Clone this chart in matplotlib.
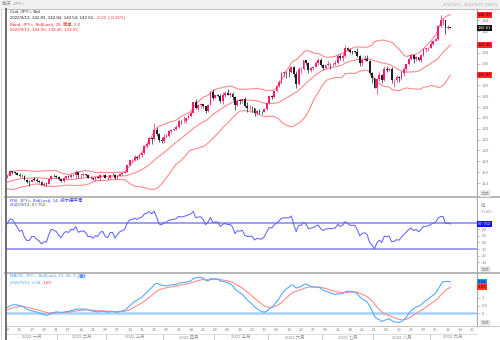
import numpy as np
import pandas as pd
import matplotlib
matplotlib.use("Agg")
import matplotlib.pyplot as plt
from matplotlib.lines import Line2D
from matplotlib.patches import Rectangle
from matplotlib.transforms import blended_transform_factory as blend

plt.rcParams["font.family"] = ["Liberation Sans", "Noto Sans CJK SC"]

# ---------------------------------------------------------------------------
# USD/JPY daily bid bars, 2022-01-03 .. 2022-09-13 (one row per week)
# ---------------------------------------------------------------------------
opens = [
    115.08, 115.30, 116.12, 116.10, 115.85,
    115.55, 115.20, 115.30, 114.60, 114.20,
    114.20, 114.60, 114.60, 114.30, 114.10,
    113.70, 113.90, 113.85, 114.65, 115.35,
    115.25, 115.10, 114.70, 114.40, 114.95,
    115.20, 115.10, 115.55, 115.50, 116.00,
    115.40, 115.55, 115.60, 115.45, 114.95,
    115.00, 114.75, 115.05, 114.95, 115.50,
    115.55, 115.00, 114.90, 115.50, 115.50,
    114.85, 115.30, 115.70, 115.85, 116.10,
    117.30, 118.20, 118.30, 118.75, 118.60,
    119.15, 119.45, 120.80, 121.20, 122.30,
    122.05, 123.85, 123.05, 121.85, 121.70,
    122.50, 122.75, 123.60, 123.80, 123.95,
    124.35, 125.40, 125.35, 125.45, 125.95,
    126.40, 126.95, 128.90, 127.90, 128.40,
    128.50, 128.10, 127.20, 128.40, 130.80,
    129.70, 130.15, 130.10, 129.10, 130.20,
    130.55, 130.30, 130.40, 129.90, 128.30,
    129.20, 129.15, 129.40, 128.20, 127.80,
    127.90, 127.85, 126.90, 127.30, 127.10,
    127.10, 127.60, 128.70, 130.00, 129.90,
    130.90, 131.90, 132.60, 134.20, 134.40,
    134.40, 134.40, 135.45, 134.00, 132.20,
    135.00, 135.05, 136.60, 136.20, 134.90,
    135.20, 135.45, 136.10, 136.60, 135.70,
    135.20, 135.70, 135.90, 135.90, 136.00,
    136.10, 137.40, 137.00, 137.40, 138.90,
    138.55, 138.20, 138.20, 138.20, 137.40,
    136.10, 136.70, 136.90, 136.50, 134.30,
    133.30, 131.60, 133.20, 133.90, 133.00,
    135.00, 134.90, 135.00, 132.90, 133.00,
    133.50, 133.30, 134.20, 135.00, 135.90,
    136.90, 137.50, 136.80, 137.20, 136.60,
    137.50, 138.70, 138.80, 138.95, 139.60,
    140.20, 140.50, 142.90, 144.00, 144.10,
    142.60, 142.83,
]
highs = [
    115.40, 116.35, 116.20, 116.10, 116.05,
    115.85, 115.60, 115.45, 114.70, 114.50,
    114.70, 115.05, 114.90, 114.60, 114.30,
    114.10, 114.05, 114.70, 115.50, 115.70,
    115.50, 115.20, 114.80, 115.10, 115.35,
    115.40, 115.70, 115.70, 116.35, 116.10,
    115.60, 115.80, 115.70, 115.50, 115.20,
    115.10, 115.10, 115.20, 115.70, 115.75,
    115.60, 115.10, 115.55, 115.80, 115.60,
    115.40, 115.85, 116.00, 116.20, 117.35,
    118.30, 118.45, 119.10, 119.00, 119.40,
    119.55, 120.95, 121.40, 122.40, 122.45,
    125.10, 124.25, 123.20, 122.40, 123.00,
    123.00, 123.70, 124.00, 124.10, 124.70,
    125.80, 125.60, 126.30, 126.00, 126.70,
    127.20, 129.00, 129.40, 128.60, 128.80,
    128.60, 128.20, 128.60, 130.90, 131.25,
    130.30, 130.40, 130.40, 130.80, 131.00,
    131.35, 130.70, 130.80, 130.00, 129.50,
    129.40, 129.50, 129.80, 128.90, 128.40,
    128.20, 127.90, 127.50, 127.60, 127.30,
    127.90, 128.80, 130.20, 130.20, 131.00,
    132.00, 133.00, 134.50, 134.60, 134.60,
    135.20, 135.60, 135.60, 134.70, 135.40,
    135.40, 136.70, 136.70, 136.30, 135.40,
    135.60, 136.40, 137.00, 137.00, 135.90,
    135.80, 136.40, 136.10, 136.20, 136.60,
    137.70, 137.80, 138.00, 139.40, 139.10,
    138.90, 138.40, 138.40, 138.90, 137.60,
    136.80, 137.50, 137.50, 136.60, 134.50,
    133.40, 133.30, 134.50, 134.00, 135.50,
    135.50, 135.20, 135.30, 133.20, 133.90,
    133.70, 134.60, 135.30, 136.00, 137.00,
    137.70, 137.70, 137.40, 137.30, 137.70,
    138.80, 138.90, 139.10, 140.20, 140.40,
    140.80, 143.10, 144.99, 144.40, 144.10,
    143.20, 142.84,
]
lows = [
    115.00, 115.20, 115.70, 115.60, 115.50,
    115.05, 115.00, 114.50, 114.00, 113.50,
    114.10, 114.40, 114.20, 114.00, 113.60,
    113.50, 113.50, 113.75, 114.60, 115.10,
    114.90, 114.60, 114.20, 114.20, 114.70,
    114.90, 115.00, 115.30, 115.00, 115.00,
    114.90, 115.30, 115.30, 114.85, 114.80,
    114.50, 114.40, 114.90, 114.40, 115.30,
    114.90, 114.70, 114.80, 115.40, 114.80,
    114.65, 115.20, 115.50, 115.80, 116.00,
    117.20, 117.80, 118.00, 118.25, 118.40,
    118.80, 119.40, 120.40, 121.00, 121.20,
    122.00, 122.60, 121.60, 121.30, 121.30,
    122.40, 122.50, 123.30, 123.60, 123.80,
    124.20, 124.80, 125.10, 125.10, 125.80,
    126.20, 126.90, 127.60, 127.30, 127.80,
    127.80, 126.95, 127.00, 128.30, 129.30,
    129.70, 129.90, 128.80, 128.60, 129.80,
    130.20, 129.80, 129.30, 127.50, 128.10,
    128.60, 128.80, 128.00, 127.00, 127.50,
    127.10, 126.35, 126.60, 126.80, 126.70,
    127.00, 127.50, 128.50, 129.50, 129.70,
    130.80, 131.70, 132.40, 133.60, 133.40,
    133.60, 134.20, 133.50, 131.50, 132.00,
    134.30, 134.80, 135.80, 134.30, 134.50,
    134.80, 135.40, 135.80, 135.60, 134.80,
    135.10, 135.50, 135.00, 135.60, 135.80,
    136.00, 136.60, 136.40, 137.30, 138.40,
    137.90, 137.70, 137.90, 137.30, 135.60,
    135.60, 136.40, 136.40, 133.90, 132.50,
    131.60, 130.40, 132.80, 132.50, 132.80,
    134.50, 134.60, 132.50, 131.70, 132.70,
    132.60, 132.90, 133.80, 134.60, 135.70,
    136.70, 136.20, 136.40, 136.40, 136.30,
    137.40, 138.20, 138.30, 138.90, 139.50,
    140.10, 140.40, 142.80, 143.20, 141.50,
    142.30, 142.53,
]
closes = [
    115.30, 116.12, 116.10, 115.85, 115.55,
    115.20, 115.30, 114.60, 114.20, 114.20,
    114.60, 114.60, 114.30, 114.10, 113.70,
    113.90, 113.85, 114.65, 115.35, 115.25,
    115.10, 114.70, 114.40, 114.95, 115.20,
    115.10, 115.55, 115.50, 116.00, 115.40,
    115.55, 115.60, 115.45, 114.95, 115.00,
    114.75, 115.05, 114.95, 115.50, 115.55,
    115.00, 114.90, 115.50, 115.50, 114.85,
    115.30, 115.70, 115.85, 116.10, 117.30,
    118.20, 118.30, 118.75, 118.60, 119.15,
    119.45, 120.80, 121.20, 122.30, 122.05,
    123.85, 123.05, 121.85, 121.70, 122.50,
    122.75, 123.60, 123.80, 123.95, 124.35,
    125.40, 125.35, 125.45, 125.95, 126.40,
    126.95, 128.90, 127.90, 128.40, 128.50,
    128.10, 127.20, 128.40, 130.80, 129.70,
    130.15, 130.10, 129.10, 130.20, 130.55,
    130.30, 130.40, 129.90, 128.30, 129.20,
    129.15, 129.40, 128.20, 127.80, 127.90,
    127.85, 126.90, 127.30, 127.10, 127.10,
    127.60, 128.70, 130.00, 129.90, 130.90,
    131.90, 132.60, 134.20, 134.40, 134.40,
    134.40, 135.45, 134.00, 132.20, 135.00,
    135.05, 136.60, 136.20, 134.90, 135.20,
    135.45, 136.10, 136.60, 135.70, 135.20,
    135.70, 135.90, 135.90, 136.00, 136.10,
    137.40, 137.00, 137.40, 138.90, 138.55,
    138.20, 138.20, 138.20, 137.40, 136.10,
    136.70, 136.90, 136.50, 134.30, 133.30,
    131.60, 133.20, 133.90, 133.00, 135.00,
    134.90, 135.00, 132.90, 133.00, 133.50,
    133.30, 134.20, 135.00, 135.90, 136.90,
    137.50, 136.80, 137.20, 136.60, 137.50,
    138.70, 138.80, 138.95, 139.60, 140.20,
    140.50, 142.90, 144.00, 144.10, 142.60,
    142.83, 142.61,
]
# Oct-Dec 2021 closes: history that seeds the moving averages / RSI
prior_close = [
    111.05, 110.95, 111.45, 111.40, 111.60, 112.20, 113.30, 113.60, 113.25,
    113.70, 114.20, 114.30, 114.35, 114.30, 114.00, 113.50, 113.70, 114.15,
    113.80, 113.60, 114.00,
    114.00, 113.95, 114.10, 113.75, 113.40, 112.90, 112.85, 113.90, 114.10,
    113.90, 114.10, 114.85, 114.10, 114.25, 114.00, 114.85, 115.10, 115.40,
    115.35, 113.35, 113.50, 113.20,
    113.00, 113.20, 112.80, 113.50, 113.55, 113.70, 113.40, 113.40, 113.55,
    113.75, 114.05, 113.70, 113.70, 113.60, 114.10, 114.15, 114.40, 114.40,
    114.80, 114.85, 114.95, 115.05, 115.10,
]

start_date = "2022-01-03"
axis_end_date = "2022-09-30"

price_ticks = list(range(114, 146, 2))
rsi_ticks = [10, 20, 30, 40, 50, 60]
macd_ticks = [0, 0.5, 1]
month_names = ["一月", "二月", "三月", "四月", "五月", "六月",
               "七月", "八月", "九月"]

# ---------------------------------------------------------------------------
# indicators
# ---------------------------------------------------------------------------
n = len(closes)
full = pd.Series(prior_close + closes, dtype=float)
mid = full.rolling(20).mean()
sd = full.rolling(20).std(ddof=0)
bb_up = (mid + 2 * sd).iloc[-n:].to_numpy()
bb_mid = mid.iloc[-n:].to_numpy()
bb_lo = (mid - 2 * sd).iloc[-n:].to_numpy()

delta = full.diff()
gain = delta.clip(lower=0).ewm(alpha=1 / 14, adjust=False).mean()
loss = (-delta.clip(upper=0)).ewm(alpha=1 / 14, adjust=False).mean()
rsi = (100 - 100 / (1 + gain / loss)).iloc[-n:].to_numpy()

ema12 = full.ewm(span=12, adjust=False).mean()
ema26 = full.ewm(span=26, adjust=False).mean()
macd_full = ema12 - ema26
signal_full = macd_full.ewm(span=9, adjust=False).mean()
macd = macd_full.iloc[-n:].to_numpy()
signal = signal_full.iloc[-n:].to_numpy()

o = np.array(opens); h = np.array(highs); l = np.array(lows); c = np.array(closes)
idx = np.arange(n)

# ---------------------------------------------------------------------------
# layout (pixel based, 500 x 340)
# ---------------------------------------------------------------------------
W, H = 500.0, 340.0
fig = plt.figure(figsize=(5, 3.4), dpi=100)
fig.patch.set_facecolor("white")


def rect(x0, y0, x1, y1):
    return [x0 / W, 1 - y1 / H, (x1 - x0) / W, (y1 - y0) / H]


def hline(y, x0=0, x1=W, color="#b4b4b4", lw=1.0):
    fig.add_artist(Line2D([x0 / W, x1 / W], [1 - y / H, 1 - y / H],
                          color=color, lw=lw, transform=fig.transFigure))


def vline(x, y0, y1, color="#b4b4b4", lw=1.0):
    fig.add_artist(Line2D([x / W, x / W], [1 - y0 / H, 1 - y1 / H],
                          color=color, lw=lw, transform=fig.transFigure))


X0, X1 = 6, 477
XLIM = (-0.53, 191.87)
FS = 3.2
GREY = "#8c8c8c"

ax_p = fig.add_axes(rect(X0, 9, X1, 197))
ax_r = fig.add_axes(rect(X0, 197, X1, 273))
ax_m = fig.add_axes(rect(X0, 273, X1, 326))
ax_d = fig.add_axes(rect(X0, 326, X1, 340))

for ax in (ax_p, ax_r, ax_m, ax_d):
    ax.set_xlim(*XLIM)
    ax.set_facecolor("none")
    for s in ("top", "left", "bottom"):
        ax.spines[s].set_visible(False)
    ax.spines["right"].set_color("#a8a8a8")
    ax.spines["right"].set_linewidth(0.8)
    ax.set_xticks([])
    ax.yaxis.tick_right()
    ax.tick_params(axis="y", length=2, width=0.4, color="#a0a0a0",
                   labelsize=FS, labelcolor=GREY, pad=1.2)

ax_d.spines["right"].set_visible(False)
ax_d.set_yticks([])
ax_d.set_ylim(0, 1)

# ---------------------------------------------------------------------------
# price panel: candles + Bollinger bands
# ---------------------------------------------------------------------------
ax_p.set_ylim(111.42, 146.07)
up = c > o
pink = "#ff1a72"
dark = "#1e1e1e"
cols = np.where(up, pink, dark)
ax_p.vlines(idx, l, h, colors=cols, lw=0.5, zorder=2)
body_lo = np.minimum(o, c)
body_h = np.maximum(np.abs(c - o), 0.06)
ax_p.bar(idx, body_h, bottom=body_lo, width=0.75, color=cols,
         linewidth=0, zorder=3)
bb_col = "#ff8a8a"
for band in (bb_up, bb_mid, bb_lo):
    ax_p.plot(idx, band, color=bb_col, lw=0.8, zorder=1)

boxes_p = [(144.99, "144.99", "#ff2626", "#2a0000"),
           (142.61, "142.61", "#111111", "white"),
           (139.46, "139.46", "#ff2626", "#2a0000"),
           (133.93, "133.93", "#ff2626", "#2a0000")]
px_per_unit = 188 / (146.07 - 111.42)
keep = [t for t in price_ticks
        if all(abs(t - b[0]) * px_per_unit > 3.2 for b in boxes_p)]
ax_p.set_yticks(price_ticks)
ax_p.set_yticklabels([str(t) if t in keep else "" for t in price_ticks])


def value_box(ax, v, s, fc, tc):
    ax.text(1.0015, v, s, transform=blend(ax.transAxes, ax.transData),
            ha="left", va="center", fontsize=FS, color=tc, zorder=10,
            clip_on=False,
            bbox=dict(boxstyle="square,pad=0.22", fc=fc, ec="none"))


for v, s, fc, tc in boxes_p:
    value_box(ax_p, v, s, fc, tc)

# ---------------------------------------------------------------------------
# RSI panel
# ---------------------------------------------------------------------------
ax_r.set_ylim(-6.2, 108.9)
ax_r.axhline(70, color="#8c8cff", lw=1.2, zorder=1)
ax_r.axhline(30, color="#8c8cff", lw=1.2, zorder=1)
ax_r.plot(idx, rsi, color="#6464ff", lw=0.75, zorder=2)
ax_r.set_yticks(rsi_ticks)
ax_r.set_yticklabels([str(t) for t in rsi_ticks])
value_box(ax_r, 67.752, "67.752", "#1010ff", "#e8e8ff")

# ---------------------------------------------------------------------------
# MACD panel
# ---------------------------------------------------------------------------
ax_m.set_ylim(-0.837, 2.627)
ax_m.axhline(0, color="#a6d2ff", lw=1.8, zorder=1)
ax_m.plot(idx, signal, color="#ff8c8c", lw=0.8, zorder=2)
ax_m.plot(idx, macd, color="#55aaff", lw=0.8, zorder=3)
ax_m.set_yticks(macd_ticks)
ax_m.set_yticklabels(["0", "0.5", "1"])
value_box(ax_m, 2.04, "2.04", "#1e90ff", "#001030")
value_box(ax_m, 1.69, "1.69", "#ff3a1a", "#300000")

# ---------------------------------------------------------------------------
# date band
# ---------------------------------------------------------------------------
days = pd.bdate_range(start_date, axis_end_date)
for i, d in enumerate(days):
    if d.weekday() == 0 and XLIM[0] <= i <= XLIM[1]:
        ax_d.text(i, 0.72, d.strftime("%d"), ha="center", va="center",
                  fontsize=FS, color=GREY)
for m in range(1, 10):
    pos = [i for i, d in enumerate(days) if d.month == m and i <= XLIM[1]]
    if not pos:
        continue
    ctr = (pos[0] + pos[-1]) / 2
    ax_d.text(ctr, 0.2, f"2022 {month_names[m - 1]}", ha="center",
              va="center", fontsize=FS, color=GREY)
    if m > 1:
        ax_d.plot([pos[0] - 0.5] * 2, [0.0, 0.45], color="#b0b0b0", lw=0.5)

# ---------------------------------------------------------------------------
# frame, separators, header
# ---------------------------------------------------------------------------
fig.add_artist(Rectangle((0, 1 - 8.5 / H), 1, 8.5 / H, color="#f1f1f1",
                         transform=fig.transFigure, zorder=0))
hline(8.8, 5, W, color="#b8b8b8", lw=0.6)
hline(197, 5, W, color="#b0b0b0", lw=1.3)
hline(273, 5, W, color="#b0b0b0", lw=1.3)
hline(325.6, 5, W, color="#c4c4c4", lw=0.7)
hline(333.6, 5, X1, color="#d0d0d0", lw=0.5)
vline(5.6, 8.8, H, color="#6e6e6e", lw=1.4)
vline(1.2, 8.8, H, color="#c8c8c8", lw=0.6)

fig.text(2 / W, 1 - 4.2 / H, "每天  JPY=", fontsize=FS, color="#8a8a8a",
         va="center", ha="left")
fig.text(497 / W, 1 - 4.6 / H, "2022/1/3 - 2022/9/27 (GMT)", fontsize=FS,
         color="#b0b0b0", va="center", ha="right")


def tag(y, s):
    fig.text(481 / W, 1 - y / H, s, fontsize=FS, color="#9a9a9a",
             va="center", ha="left",
             bbox=dict(boxstyle="square,pad=0.2", fc="#ececec", ec="none"))


tag(193.5, "合成")
tag(269.3, "合成")
tag(322.6, "合成")
fig.text(481 / W, 1 - 206 / H, "值", fontsize=FS, color="#9a9a9a",
         va="center", ha="left")
fig.text(481 / W, 1 - 212 / H, "/USD", fontsize=FS, color="#9a9a9a",
         va="center", ha="left")

# legends (multi-coloured rows)
renderer = fig.canvas.get_renderer()


def legend_row(x, y, parts):
    for s, col in parts:
        t = fig.text(x / W, 1 - y / H, s, fontsize=FS, color=col,
                     va="center", ha="left")
        bb = t.get_window_extent(renderer)
        x += bb.width


RED = "#ff2a2a"
legend_row(10, 11.7, [("Cnd, JPY=, Bid", "#222222")])
legend_row(10, 17.7, [("2022/9/13, 142.83, 142.84, 142.53, 142.61, ", "#222222"),
                      ("-0.22, (-0.15%)", RED)])
legend_row(10, 24.0, [("Bbnd, JPY=, Bid(Last), 20, 简单, 2.0", RED)])
legend_row(10, 30.0, [("2022/9/13, 144.99, 139.46, 133.93", RED)])

RSI_C = "#3c3cff"
legend_row(10, 200.3, [("RSI, JPY=, Bid(Last), 14, 威尔德平滑", RSI_C)])
legend_row(10, 204.9, [("2022/9/13, 67.752", RSI_C)])

MB = "#44a2ff"
legend_row(10, 276.2, [("MACD, JPY=, Bid(Last), 12, 26, 9, ", MB),
                       ("指数", "#1a6fff")])
legend_row(10, 282.8, [("2022/9/13, 2.04, ", MB), ("1.69", "#ff3a3a")])

fig.savefig("out.png", dpi=100, facecolor="white")
